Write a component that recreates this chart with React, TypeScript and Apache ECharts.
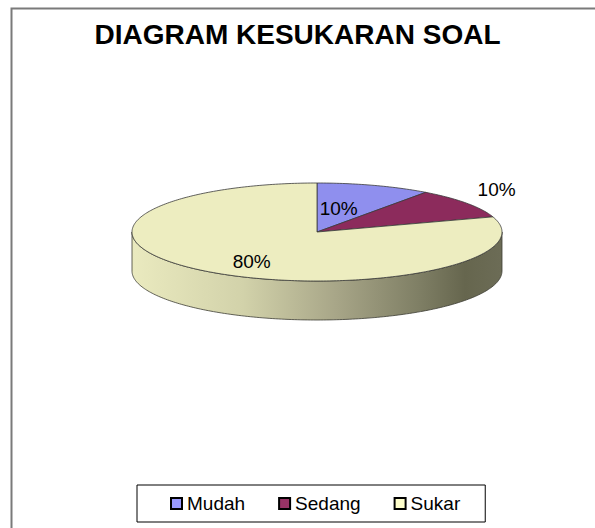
import React, { useEffect, useRef } from "react";
import * as echarts from "echarts";

const chartTitle = "DIAGRAM KESUKARAN SOAL";
const categories = ["Mudah", "Sedang", "Sukar"];
const values = [10, 10, 80];
const topColors = ["#8F8FEE", "#8C2B5C", "#EDEDC0"];
const legendColors = ["#9999FF", "#993366", "#FFFFCC"];

const FONT = 'Arial, "Liberation Sans", Helvetica, sans-serif';

export default function App() {
  const ref = useRef<HTMLDivElement>(null);
  useEffect(() => {
    const chart = echarts.init(ref.current!, null, { renderer: "svg" });
    const total = values.reduce((a, b) => a + b, 0);
    const starts: number[] = [];
    let acc = 0;
    values.forEach((v) => {
      starts.push(acc);
      acc += v;
    });
    const cx = 317,
      cy = 232,
      rx = 185,
      ry = 49,
      depth = 39;
    const TAU = Math.PI * 2;
    const pt = (t: number, dy = 0) => [cx + rx * Math.sin(t), cy - ry * Math.cos(t) + dy];
    const arc = (a: number, b: number, dy = 0) => {
      const n = Math.max(2, Math.ceil((b - a) / (Math.PI / 180)));
      const pts: number[][] = [];
      for (let i = 0; i <= n; i++) pts.push(pt(a + ((b - a) * i) / n, dy));
      return pts;
    };
    const labelR = [0.38, 1.2, 0.6];
    const labelDy = [-6, -8, 6];
    const sideFill = {
      type: "linear",
      x: 0,
      y: 0,
      x2: 1,
      y2: 0,
      colorStops: [
        { offset: 0, color: "#EAEABF" },
        { offset: 0.3, color: "#D2D2AA" },
        { offset: 0.55, color: "#A8A688" },
        { offset: 0.78, color: "#7E7E64" },
        { offset: 0.9, color: "#66664E" },
        { offset: 1, color: "#6C6C56" },
      ],
    };

    const series = categories.map((name, i) => ({
      type: "custom",
      name,
      coordinateSystem: "none",
      data: [[values[i], starts[i]]],
      itemStyle: { color: legendColors[i] },
      renderItem: (_params: any, api: any) => {
        const v = api.value(0) as number;
        const s = api.value(1) as number;
        const a = (s / total) * TAU;
        const b = ((s + v) / total) * TAU;
        const children: any[] = [];
        const fa = Math.max(a, Math.PI / 2);
        const fb = Math.min(b, (3 * Math.PI) / 2);
        if (fb > fa) {
          const top = arc(fa, fb);
          const bot = arc(fa, fb, depth).reverse();
          children.push({
            type: "polygon",
            shape: { points: [...top, ...bot] },
            style: { fill: sideFill, stroke: "#3C3C34", lineWidth: 0.8 },
          });
        }
        children.push({
          type: "polygon",
          shape: { points: [[cx, cy], ...arc(a, b)] },
          style: { fill: topColors[i], stroke: "#3A3A3A", lineWidth: 0.8 },
        });
        const m = (a + b) / 2;
        const lx = cx + rx * labelR[i] * Math.sin(m);
        const ly = cy - ry * labelR[i] * Math.cos(m) + labelDy[i];
        children.push({
          type: "text",
          x: lx,
          y: ly,
          style: {
            text: Math.round((v / total) * 100) + "%",
            fill: "#000",
            fontSize: 19,
            fontFamily: FONT,
            align: "center",
            verticalAlign: "middle",
          },
        });
        return { type: "group", children };
      },
    }));

    chart.setOption({
      animation: false,
      backgroundColor: "#fff",
      title: {
        text: chartTitle,
        left: "center",
        top: 15,
        textStyle: { fontSize: 28, fontWeight: "bold", fontFamily: FONT, color: "#000" },
      },
      legend: {
        data: categories,
        left: 137,
        top: 485,
        orient: "horizontal",
        icon: "rect",
        itemWidth: 11,
        itemHeight: 11,
        itemGap: 33,
        borderColor: "#000",
        borderWidth: 1,
        padding: [9, 25, 9, 33],
        itemStyle: { borderColor: "#000", borderWidth: 2 },
        textStyle: { fontSize: 19, fontFamily: FONT, color: "#000" },
      },
      graphic: [
        {
          type: "rect",
          shape: { x: 11.5, y: 8.5, width: 800, height: 800 },
          style: { fill: "none", stroke: "#7A7A7A", lineWidth: 2 },
          silent: true,
        },
      ],
      series,
    });
    return () => chart.dispose();
  }, []);
  return (
    <div
      ref={ref}
      style={{ position: "absolute", left: 0, top: 0, width: 595, height: 528 }}
    />
  );
}
